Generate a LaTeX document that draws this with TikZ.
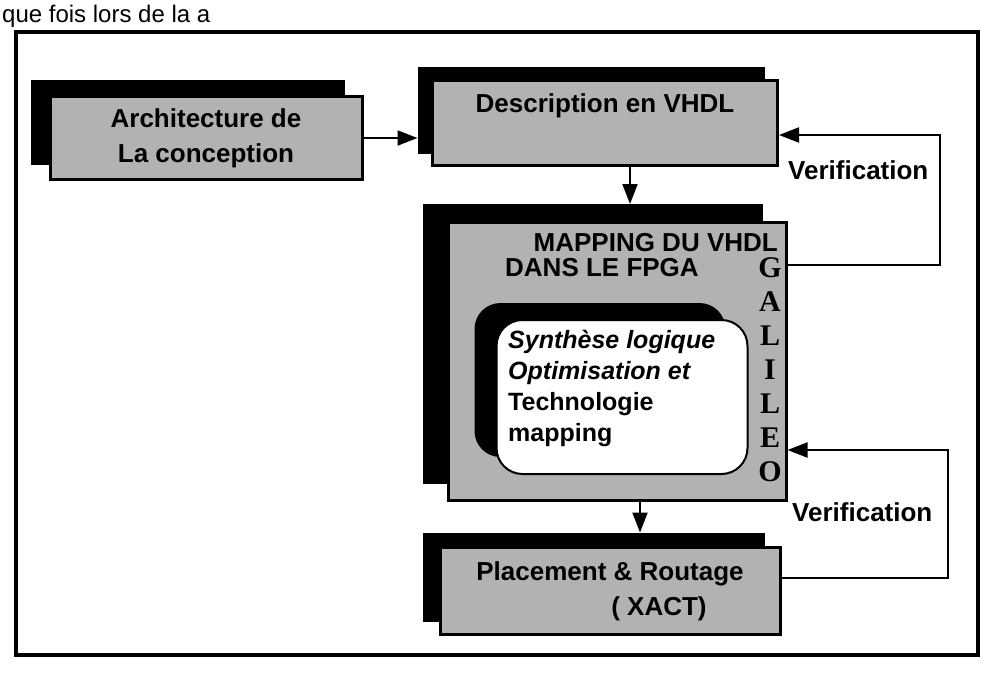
\documentclass[tikz,border=0pt]{standalone}
\usepackage{fontspec}
\setmainfont{Liberation Sans}
\newfontfamily\galfont{Liberation Serif}
\usetikzlibrary{arrows.meta,backgrounds}

\begin{document}
\begin{tikzpicture}[x=1pt,y=-1pt,
  front/.style={draw,line width=3pt,fill=black!30,inner sep=0pt,align=center,
    font=\fontsize{26}{35}\selectfont\bfseries},
  back/.style={draw,fill=black,line width=2pt,inner sep=0pt},
  arr/.style={line width=2pt,-{Triangle[length=20pt,width=15pt]}},
  lbl/.style={font=\fontsize{26}{30}\selectfont\bfseries,inner sep=0pt},
  gal/.style={font=\galfont\fontsize{30}{30}\selectfont\bfseries,inner sep=0pt}]
\useasboundingbox (0,0) rectangle (989,686);
\node[anchor=base west,inner sep=0pt,font=\fontsize{24}{26}\selectfont] (top) at (2,22) {que fois lors de la a};
\draw[line width=4pt] (16,32) rectangle (978,655);

% boxes: black one behind, grey one in front
\node[back,minimum width=312,minimum height=83] (archb) at (188,122) {};
\node[front,minimum width=312,minimum height=83] (arch) at ([shift={(18,16)}]archb) {Architecture de\\La conception};

\node[back,minimum width=345,minimum height=85] (descb) at (591,110) {};
\node[front,minimum width=345,minimum height=85,text depth=40pt] (desc) at ([shift={(14,13)}]descb) {Description en VHDL};

\node[back,minimum width=338,minimum height=278] (mapb) at (593,344) {};
\node[front,minimum width=338,minimum height=278] (map) at ([shift={(24,17)}]mapb) {};
\node[lbl,anchor=east] (maptitle) at (778,243) {MAPPING DU VHDL};
\node[lbl,anchor=west] (mapsub) at (505,268) {DANS LE FPGA};
\foreach \l [count=\i] in {G,A,L,I,L,E,O}
  \node[gal] (gal\i) at (770,{268+34*(\i-1)}) {\l};

\node[fill=black,rounded corners=26pt,minimum width=251,minimum height=154] (synthb) at (600,380) {};
\node[draw,line width=2pt,fill=white,rounded corners=26pt,minimum width=251,minimum height=154] (synth) at ([shift={(22,17)}]synthb) {};
\node[anchor=west,align=left,inner sep=0pt,font=\fontsize{25}{31}\selectfont\bfseries] (synthtxt) at (508,388)
  {{\itshape Synthèse logique}\\{\itshape Optimisation et}\\Technologie\\mapping};

\node[back,minimum width=340,minimum height=87] (placeb) at (594,577) {};
\node[front,minimum width=340,minimum height=87,align=left] (place) at ([shift={(16,14)}]placeb) {Placement \& Routage\\\hspace*{135pt}( XACT)};

% flow
\draw[arr] (arch.east) -- (arch.east -| descb.west);
\draw[arr] ([xshift=25]desc.south) -- ([xshift=25]desc.south |- mapb.north);
\draw[arr] ([xshift=23]map.south) -- ([xshift=23]map.south |- placeb.north);

% verification loops
\coordinate (v1up) at (940,135);
\coordinate (v1dn) at (940,265);
\draw[arr] (map.east |- v1dn) -- (v1dn) -- (v1up) -- (desc.east |- v1up);
\node[lbl,anchor=west] (ver1) at (788,170) {Verification};
\coordinate (v2up) at (948,450);
\coordinate (v2dn) at (948,578);
\draw[arr] (place.east |- v2dn) -- (v2dn) -- (v2up) -- (map.east |- v2up);
\node[lbl,anchor=west] (ver2) at (792,512) {Verification};
\end{tikzpicture}
\end{document}
